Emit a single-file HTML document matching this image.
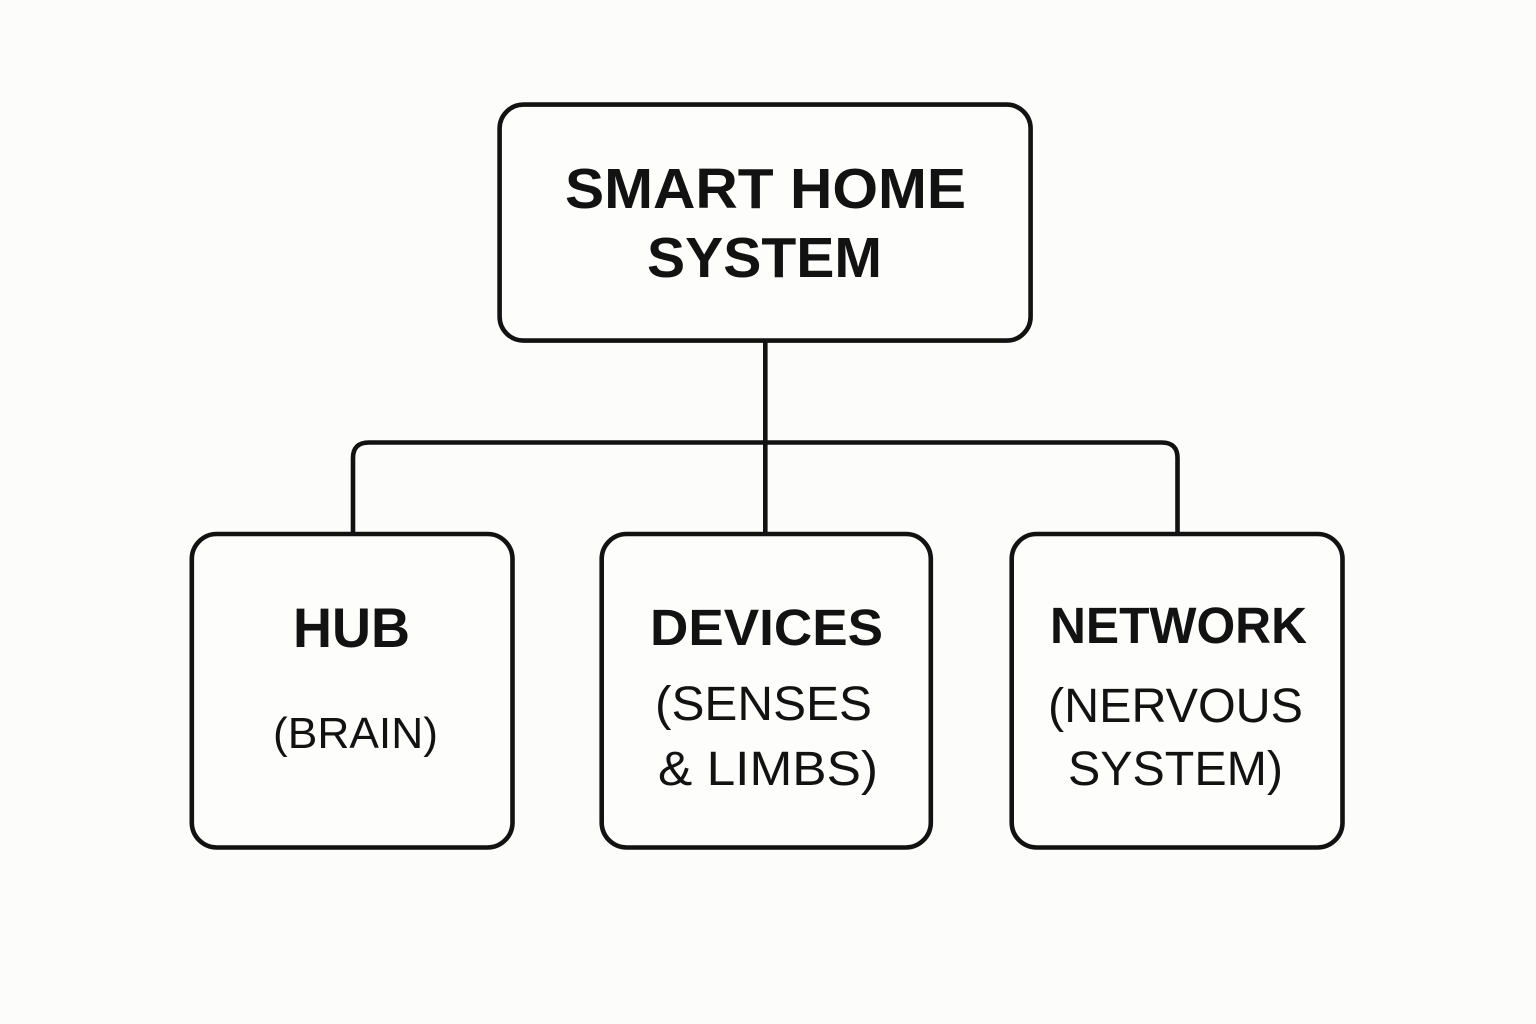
<!DOCTYPE html>
<html>
<head>
<meta charset="utf-8">
<style>
  html, body { margin: 0; padding: 0; background: #fcfcfa; }
  svg { display: block; }
  text { font-family: "Liberation Sans", Arial, sans-serif; fill: #121212; }
  .b { font-weight: bold; }
</style>
</head>
<body>
<svg width="1536" height="1024" viewBox="0 0 1536 1024" xmlns="http://www.w3.org/2000/svg">
  <rect x="0" y="0" width="1536" height="1024" fill="#fcfcfa"/>

  <!-- connectors -->
  <g fill="none" stroke="#121212" stroke-width="4.6" stroke-linecap="butt">
    <line x1="765.3" y1="340" x2="765.3" y2="534"/>
    <path d="M353 534 V458 Q353 442.5 369 442.5 H1161.5 Q1177.5 442.5 1177.5 458 V534"/>
  </g>

  <!-- boxes -->
  <g fill="#fdfdfc" stroke="#121212" stroke-width="4.6">
    <rect x="499.6" y="104.6" width="531" height="236" rx="24" ry="24"/>
    <rect x="191.8" y="534" width="320.7" height="313.5" rx="25" ry="25"/>
    <rect x="601.7" y="534" width="329.1" height="313.5" rx="25" ry="25"/>
    <rect x="1011.7" y="534" width="330.8" height="313.5" rx="25" ry="25"/>
  </g>

  <!-- top box text -->
  <text class="b" x="565" y="208" font-size="57" textLength="401" lengthAdjust="spacingAndGlyphs">SMART HOME</text>
  <text class="b" x="647" y="277" font-size="57" textLength="235" lengthAdjust="spacingAndGlyphs">SYSTEM</text>

  <!-- HUB -->
  <text class="b" x="293" y="647" font-size="56" textLength="117" lengthAdjust="spacingAndGlyphs">HUB</text>
  <text x="273" y="748" font-size="44" textLength="165" lengthAdjust="spacingAndGlyphs">(BRAIN)</text>

  <!-- DEVICES -->
  <text class="b" x="650" y="645" font-size="51" textLength="233" lengthAdjust="spacingAndGlyphs">DEVICES</text>
  <text x="655" y="720" font-size="48" textLength="217" lengthAdjust="spacingAndGlyphs">(SENSES</text>
  <text x="658" y="785" font-size="48" textLength="220" lengthAdjust="spacingAndGlyphs">&amp; LIMBS)</text>

  <!-- NETWORK -->
  <text class="b" x="1050" y="643" font-size="51" textLength="257" lengthAdjust="spacingAndGlyphs">NETWORK</text>
  <text x="1048" y="722" font-size="48" textLength="255" lengthAdjust="spacingAndGlyphs">(NERVOUS</text>
  <text x="1068" y="785" font-size="48" textLength="215" lengthAdjust="spacingAndGlyphs">SYSTEM)</text>
</svg>
</body>
</html>
